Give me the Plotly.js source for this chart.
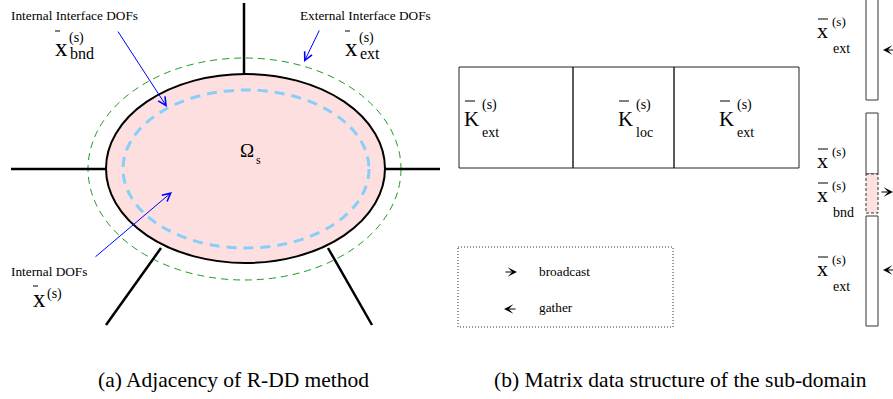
<!DOCTYPE html>
<html>
<head>
<meta charset="utf-8">
<script src="https://cdn.plot.ly/plotly-3.0.1.min.js"></script>
<style>
  html, body { margin: 0; padding: 0; background: #fff; }
  #fig { width: 893px; height: 399px; }
</style>
</head>
<body>
<div id="fig"></div>
<script>
// ---- text content of the two panels ----
const panelCaptions = ['(a) Adjacency of R-DD method', '(b) Matrix data structure of the sub-domain'];
const dofLabels = ['Internal Interface DOFs', 'External Interface DOFs', 'Internal DOFs'];
const dofSubscripts = ['bnd', 'ext', ''];
const domainSymbol = ['Ω', 's'];
const blockSubscripts = ['ext', 'loc', 'ext'];
const vectorSubscripts = ['ext', '', 'bnd', 'ext'];
const legendItems = ['broadcast', 'gather'];
const superscript = '(s)';

// ---- drawing helpers ----
const SERIF = 'Liberation Serif';
const shapes = [];
const annotations = [];

function text(str, x, y, size, anchor) {
  annotations.push({
    text: str, x: x, y: y, xref: 'x', yref: 'y',
    xanchor: anchor || 'left', yanchor: 'middle', showarrow: false,
    font: { family: SERIF, size: size, color: '#000' }, borderpad: 0
  });
}
function arrow(x0, y0, x1, y1, color, head, size, width) {
  annotations.push({
    text: '', x: x1, y: y1, ax: x0, ay: y0,
    xref: 'x', yref: 'y', axref: 'x', ayref: 'y',
    showarrow: true, arrowhead: head, arrowsize: size, arrowwidth: width,
    arrowcolor: color, standoff: 0, startstandoff: 0
  });
}
function line(x0, y0, x1, y1, w, color, dash) {
  shapes.push({ type: 'line', x0: x0, y0: y0, x1: x1, y1: y1, xref: 'x', yref: 'y',
    line: { color: color || '#000', width: w, dash: dash || 'solid' } });
}
function rect(x0, y0, x1, y1, w, color, fill, dash) {
  shapes.push({ type: 'rect', x0: x0, y0: y0, x1: x1, y1: y1, xref: 'x', yref: 'y',
    fillcolor: fill || 'rgba(0,0,0,0)', line: { color: color || '#000', width: w, dash: dash || 'solid' } });
}
function ellipse(x0, y0, x1, y1, w, color, fill, dash) {
  shapes.push({ type: 'circle', x0: x0, y0: y0, x1: x1, y1: y1, xref: 'x', yref: 'y',
    fillcolor: fill || 'rgba(0,0,0,0)', line: { color: color, width: w, dash: dash || 'solid' } });
}
// barred symbol with superscript and optional subscript stacked to its right
function barred(base, sub, bx, cy, baseSize, barW, barY, supDy, subDy, supSize, subSize) {
  line(bx + 1, barY, bx + 1 + barW, barY, 1, '#000');
  text(base, bx, cy - 0.11 * baseSize, baseSize);
  const sx = bx + baseSize * 0.5 + 1;
  text(superscript, sx, cy + supDy, supSize);
  if (sub) text(sub, sx + 1, cy + subDy, subSize);
}

// ---- panel (a): sub-domain and its neighbours ----
ellipse(106, 74, 385, 263, 2, '#000', '#fddfdf');
ellipse(123, 90, 369, 248, 3, '#87cefa', null, '10px,7px');
ellipse(88, 58, 401, 280, 1, '#1e9a1e', null, '7px,5px');
line(244, 3, 244, 74, 2.5);
line(11, 169, 106, 169, 2.5);
line(385, 169, 440, 169, 2.5);
line(161, 248, 106, 325, 2.5);
line(328, 248, 372, 325, 2.5);

text(dofLabels[0], 10, 15, 13.3);
text(dofLabels[1], 299, 15, 13.3);
text(dofLabels[2], 10, 271, 13.3);
arrow(117, 30, 167, 107, '#0000ff', 5, 1.6, 1);
arrow(320, 29, 304, 62, '#0000ff', 5, 1.6, 1);
arrow(94, 258, 172, 192, '#0000ff', 5, 1.6, 1);

barred('x', dofSubscripts[0], 54, 50, 25, 5, 31, -12, 3, 14, 16);
barred('x', dofSubscripts[1], 344, 50, 25, 5, 31, -12, 3, 14, 16);
barred('x', dofSubscripts[2], 32, 301, 25, 5, 286, -7, 0, 14, 16);

text(domainSymbol[0], 239, 150, 19);
text(domainSymbol[1], 255, 160, 12);

// ---- panel (b): stiffness blocks and vectors ----
const blockEdges = [459, 573, 674, 799];
for (let i = 0; i < 3; i++) {
  rect(blockEdges[i], 67, blockEdges[i + 1], 168, 1, '#222');
}
const kLeft = [463, 617, 718];
blockSubscripts.forEach((s, i) => {
  line(kLeft[i] + 2, 101, kLeft[i] + 12, 101, 1, '#000');
  text('K', kLeft[i], 118.5, 21);
  text(superscript, kLeft[i] + 18, 105, 14);
  text(s, kLeft[i] + 18, 132, 14);
});

// vector slots
rect(866, -3, 878, 100, 1, '#333', '#fff');
rect(866, 113, 878, 174, 1, '#333', '#fff');
rect(866, 174, 878, 213, 1, '#333', '#fde0e0', '3px,2px');
rect(866, 216, 878, 326, 1, '#333', '#fff');

const vecCenters = [33, 163, 197, 271];
vectorSubscripts.forEach((s, i) => {
  const c = vecCenters[i];
  line(818, c - 14, 828, c - 14, 1, '#000');
  text('x', 816, c - 2.5, 22);
  text(superscript, 831, c - 12, 13);
  if (s) text(s, 832, c + 15, 14);
});

// broadcast / gather marks
arrow(896, 50, 883, 50, '#000', 3, 1.3, 1.2);
arrow(880, 192, 893, 192, '#000', 3, 1.3, 1.2);
arrow(896, 270, 883, 270, '#000', 3, 1.3, 1.2);

// legend box
rect(458, 247, 673, 327, 1, '#333', null, '1px,2px');
arrow(504, 272, 517, 272, '#000', 3, 1.3, 1.2);
arrow(517, 309, 504, 309, '#000', 3, 1.3, 1.2);
text(legendItems[0], 538, 271, 13.3);
text(legendItems[1], 538, 307, 13.3);

// panel captions
text(panelCaptions[0], 233, 380, 21.5, 'center');
text(panelCaptions[1], 680, 380, 21.5, 'center');

const layout = {
  width: 893, height: 399,
  margin: { l: 0, r: 0, t: 0, b: 0, pad: 0 },
  paper_bgcolor: '#fff', plot_bgcolor: '#fff',
  font: { family: SERIF },
  showlegend: false,
  xaxis: { range: [0, 893], visible: false, fixedrange: true },
  yaxis: { range: [399, 0], visible: false, fixedrange: true },
  shapes: shapes,
  annotations: annotations
};

Plotly.newPlot('fig', [], layout, { staticPlot: true, displayModeBar: false });
</script>
</body>
</html>
